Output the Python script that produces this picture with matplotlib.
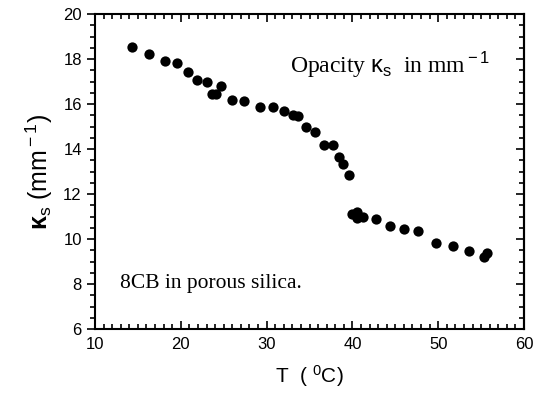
import matplotlib
matplotlib.use("Agg")
import matplotlib.pyplot as plt
from matplotlib.ticker import MultipleLocator

temperature = [14.35, 16.3, 18.1, 19.5, 20.8, 21.85, 23.0, 23.6, 24.05, 24.65,
               26.0, 27.4, 29.2, 30.7, 32.05, 33.1, 33.7, 34.55, 35.65, 36.7,
               37.7, 38.45, 38.95, 39.65, 40.0, 40.5, 40.55, 41.2, 42.7, 44.4,
               46.0, 47.7, 49.8, 51.7, 53.6, 55.3, 55.65]
kappa_s = [18.55, 18.22, 17.93, 17.84, 17.44, 17.07, 16.99, 16.43, 16.43, 16.8,
           16.18, 16.15, 15.88, 15.88, 15.69, 15.51, 15.47, 14.99, 14.74, 14.18,
           14.18, 13.66, 13.33, 12.84, 11.1, 11.22, 10.93, 11.0, 10.87, 10.58,
           10.44, 10.37, 9.81, 9.70, 9.47, 9.19, 9.39]

x_ticks = [10, 20, 30, 40, 50, 60]
y_ticks = [6, 8, 10, 12, 14, 16, 18, 20]

plt.rcParams['mathtext.fontset'] = 'custom'
plt.rcParams['mathtext.rm'] = 'Liberation Sans'
plt.rcParams['mathtext.it'] = 'Liberation Sans'
plt.rcParams['mathtext.bf'] = 'Liberation Sans:bold'

fig = plt.figure(figsize=(5.38, 4.03), dpi=100)
ax = fig.add_axes([0.1766, 0.1836, 0.974 - 0.1766, 0.965 - 0.1836])

ax.plot(temperature, kappa_s, 'o', color='black', markersize=7.4, markeredgewidth=0)

ax.set_xlim(10, 60)
ax.set_ylim(6, 20)
ax.set_xticks(x_ticks)
ax.set_yticks(y_ticks)
ax.xaxis.set_minor_locator(MultipleLocator(1))
ax.yaxis.set_minor_locator(MultipleLocator(0.5))

for s in ax.spines.values():
    s.set_linewidth(1.5)

ax.tick_params(axis='x', which='both', direction='in', top=True, bottom=True,
               labelsize=12, width=1.2, pad=6)
ax.tick_params(axis='y', which='both', direction='out', left=True, right=False,
               labelsize=12, width=1.2)
ax.tick_params(which='major', length=6)
ax.tick_params(which='minor', length=3.5)
for lab in ax.get_xticklabels() + ax.get_yticklabels():
    lab.set_family('Liberation Sans')

# right-side inward ticks
ax_r = ax.secondary_yaxis('right')
ax_r.set_yticks(y_ticks)
ax_r.yaxis.set_minor_locator(MultipleLocator(0.5))
ax_r.tick_params(axis='y', which='both', direction='in', labelright=False, width=1.2)
ax_r.tick_params(which='major', length=6)
ax_r.tick_params(which='minor', length=3.5)
ax_r.spines['right'].set_linewidth(1.5)

ax.set_xlabel(r'T  ( $^{\rm 0}$C)', fontsize=15, family='Liberation Sans', labelpad=8)
ax.set_ylabel(r'$\mathbf{\kappa}_{\rm s}$ (mm$^{\rm -1}$)', fontsize=18, family='Liberation Sans', labelpad=6)

ax.text(0.455, 0.84, r'Opacity $\kappa_{\rm s}$  in mm$^{\rm -1}$', transform=ax.transAxes,
        fontsize=17, family='Liberation Serif', ha='left', va='center')
ax.text(0.058, 0.146, '8CB in porous silica.', transform=ax.transAxes,
        fontsize=15.5, family='Liberation Serif', ha='left', va='center')

fig.savefig('out.png', dpi=100)
